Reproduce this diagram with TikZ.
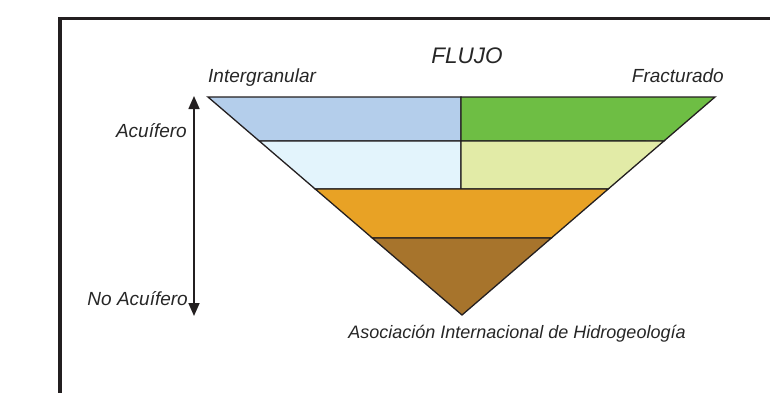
\documentclass[tikz,border=0pt]{standalone}
\usepackage{fontspec}
\setmainfont{Liberation Sans}
\usetikzlibrary{arrows.meta,calc}
\definecolor{framec}{HTML}{231F20}
\definecolor{lineC}{HTML}{231F20}
\definecolor{cBlue}{HTML}{B4CEEB}
\definecolor{cGreen}{HTML}{6EBE44}
\definecolor{cLBlue}{HTML}{E3F4FC}
\definecolor{cLGreen}{HTML}{E2EBA7}
\definecolor{cOrange}{HTML}{E8A225}
\definecolor{cBrown}{HTML}{A7742C}
\tikzset{
  band/.style={draw=lineC, line width=1.3pt, line join=miter},
  lbl/.style={inner sep=0pt, font=\fontsize{19}{21}\selectfont\itshape, text=black!85},
  axis/.style={draw=lineC, line width=1.6pt, {Triangle[width=11pt,length=13pt]}-{Triangle[width=11pt,length=13pt]}}
}
\begin{document}
\begin{tikzpicture}[x=1pt,y=-1pt]
\useasboundingbox (0,0) rectangle (770,392);
\clip (0,0) rectangle (770,392);
\draw[framec, line width=3.6pt] (800,18.5) -- (60,18.5) -- (60,420);
% triangle corners
\coordinate (TL) at (208,97);
\coordinate (TR) at (715,97);
\coordinate (AP) at (462,315);
\coordinate (TM) at (461,97);
\coordinate (L1) at ($(TL)!0.2018!(AP)$);
\coordinate (R1) at ($(TR)!0.2018!(AP)$);
\coordinate (L2) at ($(TL)!0.422!(AP)$);
\coordinate (R2) at ($(TR)!0.422!(AP)$);
\coordinate (L3) at ($(TL)!0.6468!(AP)$);
\coordinate (R3) at ($(TR)!0.6468!(AP)$);
\coordinate (M1) at (461,141);
\coordinate (M2) at (461,189);
% bands
\path[band, fill=cBlue] (TL) -- (TM) -- (M1) -- (L1) -- cycle;
\path[band, fill=cGreen] (TM) -- (TR) -- (R1) -- (M1) -- cycle;
\path[band, fill=cLBlue] (L1) -- (M1) -- (M2) -- (L2) -- cycle;
\path[band, fill=cLGreen] (M1) -- (R1) -- (R2) -- (M2) -- cycle;
\path[band, fill=cOrange] (L2) -- (R2) -- (R3) -- (L3) -- cycle;
\path[band, fill=cBrown] (L3) -- (R3) -- (AP) -- cycle;
% axis arrow
\coordinate (Atop) at (194,96);
\coordinate (Abot) at (194,316);
\draw[axis] (Atop) -- (Abot);
% labels
\node[lbl, anchor=base, font=\fontsize{22.5}{24}\selectfont\itshape] (flujo) at (467,63) {FLUJO};
\node[lbl, anchor=base west] (inter) at (208,82) {Intergranular};
\node[lbl, anchor=base east] (fract) at (724,82) {Fracturado};
\node[lbl, anchor=base east] (acu) at (187,137) {Acuífero};
\node[lbl, anchor=base east] (noacu) at (188,305) {No Acuífero};
\node[lbl, anchor=base, font=\fontsize{18}{20}\selectfont\itshape] (aih) at (517,338) {Asociación Internacional de Hidrogeología};
\end{tikzpicture}
\end{document}
